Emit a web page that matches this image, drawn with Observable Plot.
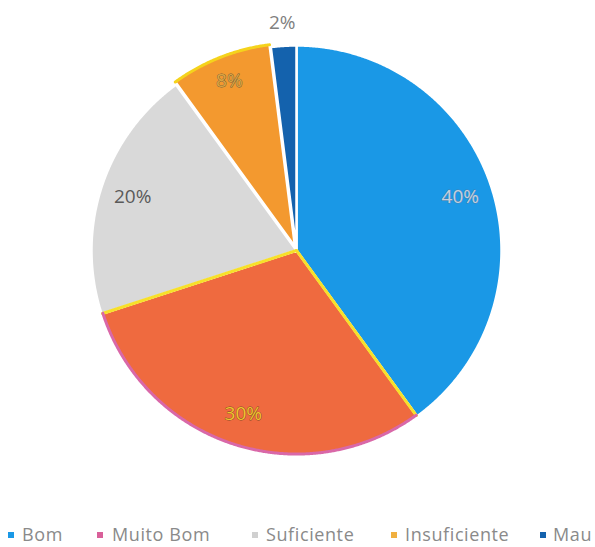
<!DOCTYPE html>
<html><head><meta charset="utf-8">
<script src="https://cdn.jsdelivr.net/npm/d3@7"></script>
<script src="https://cdn.jsdelivr.net/npm/@observablehq/plot@0.6"></script>
<style>
body{margin:0;background:#fff;font-family:"Open Sans",sans-serif;overflow:hidden}
#legend{position:relative;width:595px;height:25px}
#legend .it{position:absolute;top:0;font-size:18px;line-height:25px;color:#8a8a8a;letter-spacing:0.6px;white-space:nowrap}
#legend .sw{position:absolute;top:10px;width:6px;height:6px}
</style>
</head><body><div id="chart"></div><div id="legend"></div>
<script>
const categories = ["Bom", "Muito Bom", "Suficiente", "Insuficiente", "Mau"];
const values = [40, 30, 20, 8, 2];
const labels = ["40%", "30%", "20%", "8%", "2%"];
const colors = ["#1a98e6", "#ef6a3f", "#d9d9d9", "#f3992f", "#1462ad"];
const legendColors = ["#1a98e6", "#d9609a", "#d0d0d0", "#f0b040", "#1462ad"];

const W = 595, H = 522, cx = 296, cy = 250, R = 205;
const data = categories.map((c, i) => ({category: c, value: values[i], label: labels[i]}));
const arcs = d3.pie().sort(null).value(d => d.value)(data);

const offsets = {"Insuficiente": 0.02};
const slicePts = [], arcEdges = [], radialEdges = [], labelPts = [];
arcs.forEach(a => {
  const c = a.data.category;
  const mid = (a.startAngle + a.endAngle) / 2;
  const off = offsets[c] || 0;
  const ox = off * Math.sin(mid), oy = off * Math.cos(mid);
  const n = Math.max(4, Math.ceil((a.endAngle - a.startAngle) / 0.005));
  slicePts.push({category: c, x: ox, y: oy});
  for (let k = 0; k <= n; k++) {
    const t = a.startAngle + (a.endAngle - a.startAngle) * k / n;
    const p = {category: c, x: ox + Math.sin(t), y: oy + Math.cos(t)};
    slicePts.push(p);
    if (c === "Muito Bom" || c === "Insuficiente") arcEdges.push({...p, r: 0.993});
  }
  slicePts.push({category: c, x: ox, y: oy});
  if (c === "Muito Bom") {
    [a.startAngle, a.endAngle].forEach((t, j) => {
      radialEdges.push({edge: c + j, x: 0, y: 0});
      radialEdges.push({edge: c + j, x: Math.sin(t) * 0.995, y: Math.cos(t) * 0.995});
    });
  }
  const lr = a.data.value < 5 ? 1.11 : (a.data.value < 10 ? 0.87 : 0.84);
  labelPts.push({category: c, label: a.data.label, x: ox + lr * Math.sin(mid), y: oy + lr * Math.cos(mid)});
});

const labelFill = {"Bom": "#c3d0de", "Muito Bom": "#f2c12e", "Suficiente": "#5a5a5a", "Insuficiente": "#d9a441", "Mau": "#808080"};
const labelStroke = {"Bom": "#4a7fb0", "Muito Bom": "#7a4a22", "Suficiente": "none", "Insuficiente": "#6d5a3a", "Mau": "none"};
const arcColor = {"Muito Bom": "#d968a8", "Insuficiente": "#f5d31c"};

const chart = Plot.plot({
  width: W, height: H,
  margin: 0,
  x: {domain: [-cx / R, (W - cx) / R], axis: null},
  y: {domain: [(cy - H) / R, cy / R], axis: null},
  color: {domain: categories, range: colors},
  marks: [
    Plot.line(slicePts, {x: "x", y: "y", z: "category", fill: "category", stroke: "white", strokeWidth: 2.5, strokeLinejoin: "round"}),
    Plot.line(radialEdges, {x: "x", y: "y", z: "edge", stroke: "#f7e02a", strokeWidth: 3}),
    Plot.line(arcEdges, {x: d => d.x * d.r, y: d => d.y * d.r, z: "category", stroke: d => arcColor[d.category], strokeWidth: 3}),
    Plot.text(labelPts, {x: "x", y: "y", text: "label", fontSize: 19, fill: d => labelFill[d.category], stroke: d => labelStroke[d.category], strokeWidth: 0.8, paintOrder: "stroke", fontFamily: "Open Sans"})
  ]
});
document.getElementById("chart").appendChild(chart);

const legendPos = [[8, 22], [97, 112], [252, 266], [391, 405], [540, 553]];
const lg = document.getElementById("legend");
categories.forEach((c, i) => {
  const sw = document.createElement("div");
  sw.className = "sw"; sw.style.left = legendPos[i][0] + "px"; sw.style.background = legendColors[i];
  const t = document.createElement("div");
  t.className = "it"; t.style.left = legendPos[i][1] + "px"; t.textContent = c;
  lg.appendChild(sw); lg.appendChild(t);
});
</script>
</body></html>
